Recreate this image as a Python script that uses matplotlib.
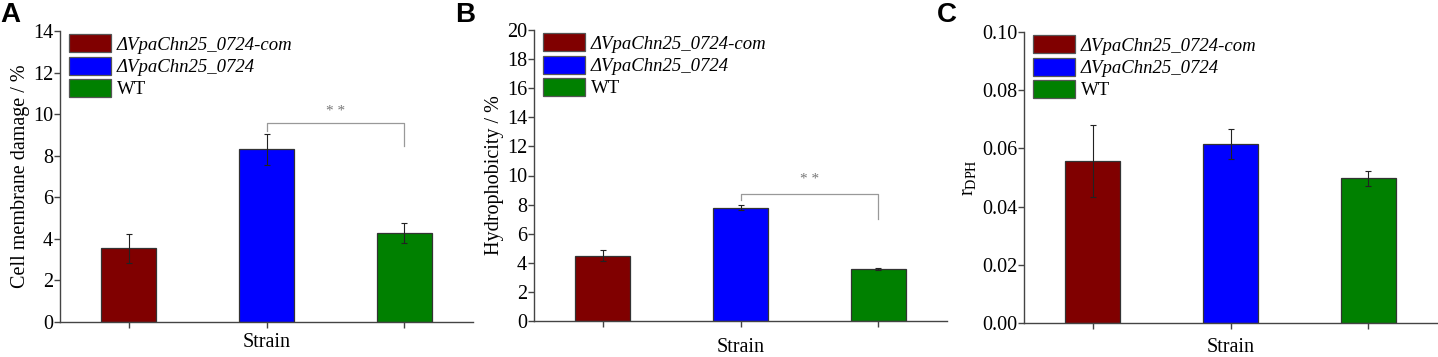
import matplotlib
matplotlib.use("Agg")
import matplotlib.pyplot as plt
from matplotlib.patches import Patch
import numpy as np

strains = ["\u0394VpaChn25_0724-com", "\u0394VpaChn25_0724", "WT"]
colors = ["#800000", "#0000ff", "#008000"]

damage = [3.55, 8.3, 4.3]
damage_err = [0.7, 0.75, 0.48]
hydro = [4.5, 7.8, 3.55]
hydro_err = [0.4, 0.2, 0.07]
rdph = [0.0558, 0.0615, 0.0497]
rdph_err = [0.0124, 0.005, 0.0026]

plt.rcParams["font.family"] = ["Liberation Serif", "DejaVu Serif"]

fig = plt.figure(figsize=(14.38, 3.57), dpi=100)
W, H = 1438, 357

def px_axes(x0, x1, ytop, ybot):
    return fig.add_axes([x0 / W, 1 - ybot / H, (x1 - x0) / W, (ybot - ytop) / H])

axA = px_axes(60, 473, 31, 322)
axB = px_axes(534, 947, 30, 321)
axC = px_axes(1024, 1437, 32, 323)

xs = np.arange(1, 4)

def panel(ax, vals, errs, ymax, step, ylabel, fmt, xpad):
    ax.bar(xs, vals, width=0.4, color=colors, edgecolor="#333333", linewidth=0.9, zorder=2)
    ax.errorbar(xs, vals, yerr=errs, fmt="none", ecolor="#222222", elinewidth=0.8,
                capsize=2.5, capthick=0.8, zorder=3)
    ax.set_xlim(0.5, 3.5)
    ax.set_ylim(0, ymax)
    ax.set_yticks(np.arange(0, ymax + step / 2, step))
    ax.yaxis.set_major_formatter(matplotlib.ticker.FormatStrFormatter(fmt))
    ax.set_xticks(xs)
    ax.set_xticklabels([])
    for s in ["top", "right"]:
        ax.spines[s].set_visible(False)
    for s in ["left", "bottom"]:
        ax.spines[s].set_color("#444444")
        ax.spines[s].set_linewidth(1.0)
    ax.tick_params(direction="out", length=4, width=1.0, color="#444444",
                   labelsize=14.5, pad=1)
    ax.set_xlabel("Strain", fontsize=14.5, labelpad=xpad)
    ax.set_ylabel(ylabel, fontsize=14.5, labelpad=2)
    handles = [Patch(facecolor=c, edgecolor="#555555", linewidth=0.9) for c in colors]
    leg = ax.legend(handles, strains, loc="upper left", bbox_to_anchor=(0.022, 0.988),
                    frameon=False, handlelength=2.25, handleheight=1.1,
                    handletextpad=0.3, labelspacing=0.15, borderaxespad=0,
                    borderpad=0, prop={"size": 13.5})
    for t in leg.get_texts()[:2]:
        t.set_fontstyle("italic")

def bracket(ax, y, yl, yr, ystar):
    ax.plot([2, 2, 3, 3], [yl, y, y, yr], color="#999999", lw=0.9, zorder=4)
    ax.text(2.5, ystar, "* *", ha="center", va="center", fontsize=11, color="#777777")

panel(axA, damage, damage_err, 14, 2, "Cell membrane damage / %", "%d", 3)
bracket(axA, 9.55, 9.2, 8.45, 10.15)

panel(axB, hydro, hydro_err, 20, 2, "Hydrophobicity / %", "%d", 7)
bracket(axB, 8.75, 8.3, 7.0, 9.7)

panel(axC, rdph, rdph_err, 0.10, 0.02, r"r$_{\mathregular{DPH}}$", "%.2f", 6)

for lab, x in [("A", 0), ("B", 455), ("C", 937)]:
    fig.text(x / W, 1 - 2 / H, lab, ha="left", va="top", fontsize=20,
             fontweight="bold", family="Liberation Sans")

fig.savefig("out.png", dpi=100)
